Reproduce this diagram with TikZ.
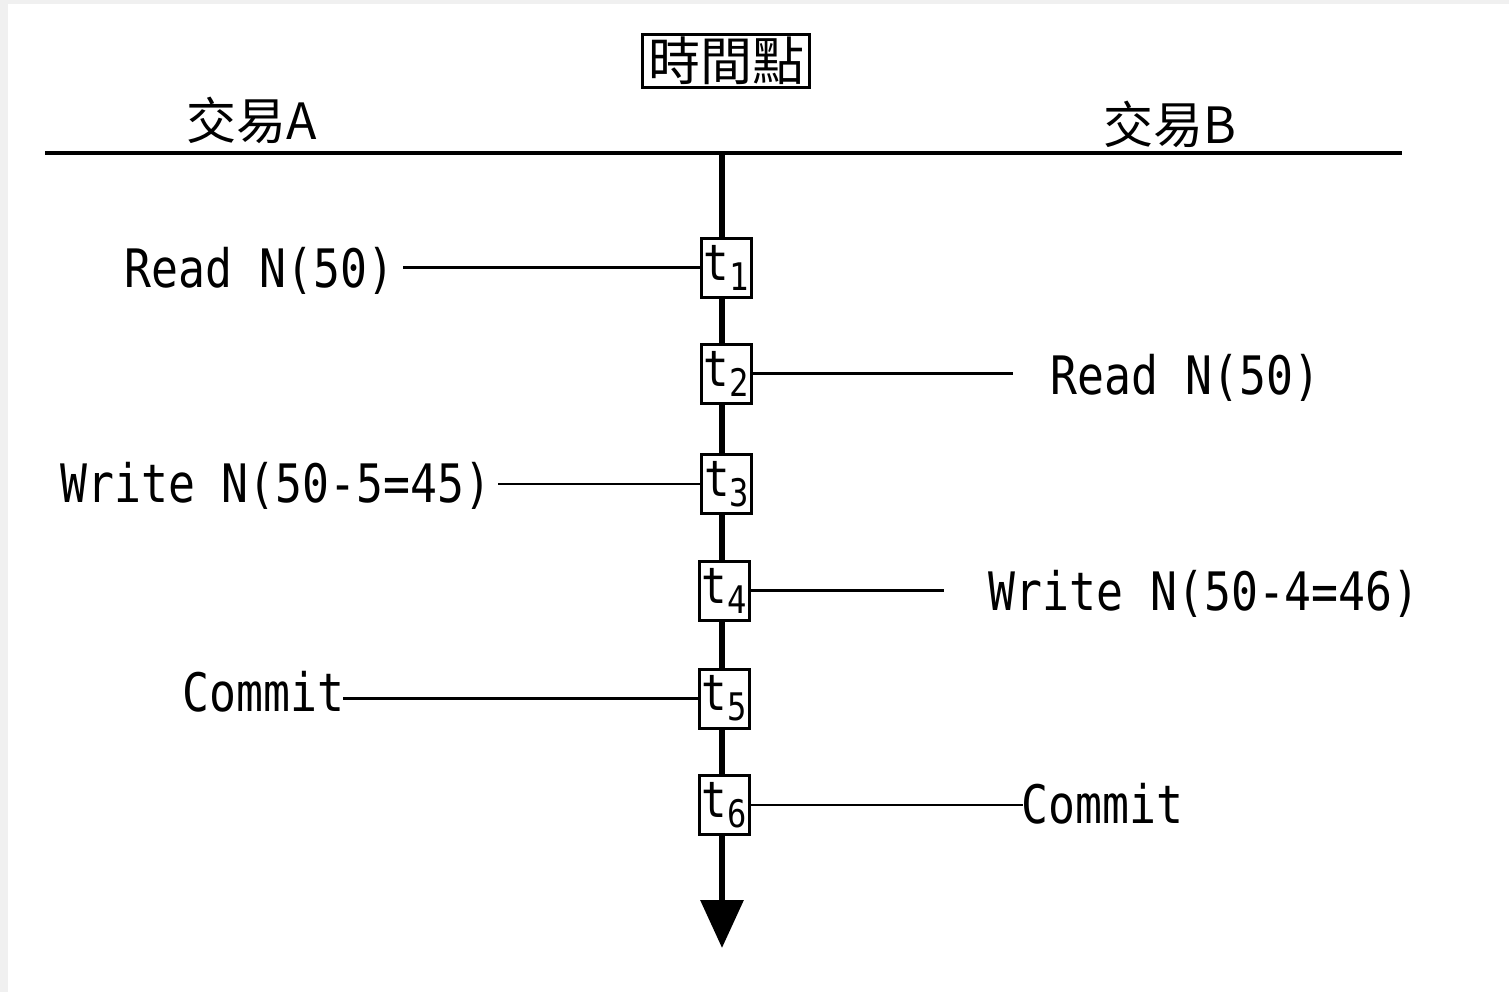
\documentclass[tikz,border=0pt]{standalone}
\usepackage{fontspec}
\usetikzlibrary{arrows.meta}
\newfontfamily\monof[FakeStretch=0.845]{DejaVu Sans Mono}
\newfontfamily\cjkf{Noto Sans CJK TC}
\newcommand\tlab[1]{{\monof\fontsize{25}{27}\selectfont t}{\monof\fontsize{19}{21}\selectfont\raisebox{-5pt}{#1}}}
\tikzset{
  tbox/.style={draw, line width=1.5pt, fill=white, minimum width=25pt, minimum height=29.5pt, inner sep=0pt},
  conn/.style={line width=1.1pt},
  lbl/.style={inner sep=0pt, font=\monof\fontsize{26.5}{30}\selectfont},
  hdr/.style={inner sep=0pt, font=\cjkf\fontsize{25}{30}\selectfont}
}
\begin{document}
\begin{tikzpicture}[x=0.5pt,y=-0.5pt]
\path[use as bounding box] (0,0) rectangle (1509,992);
\fill[black!6] (0,0) rectangle (1509,992);
\fill[white] (8,4) rectangle (1509,992);

% header
\node[draw, line width=1.5pt, inner sep=0pt, minimum width=83.5pt, minimum height=26.5pt, font=\cjkf\fontsize{26}{30}\selectfont] (tp) at (726,61) {時間點};
\node[hdr] (ta) at (252,120) {交易A};
\node[hdr] (tb) at (1170,124) {交易B};
\coordinate (hl) at (45,153);
\coordinate (hr) at (1402,153);
\draw[line width=1.7pt] (hl) -- (hr);

% time axis
\coordinate (top) at (722,153);
\coordinate (bot) at (722,948);
\draw[line width=3.2pt, -{Triangle[length=24pt, width=21pt]}] (top) -- (bot);

% time boxes
\node[tbox] (t1) at (726,267.5) {\tlab{1}};
\node[tbox] (t2) at (726,373.5) {\tlab{2}};
\node[tbox] (t3) at (726.5,484) {\tlab{3}};
\node[tbox] (t4) at (724,590.5) {\tlab{4}};
\node[tbox] (t5) at (724,698.5) {\tlab{5}};
\node[tbox] (t6) at (724,805) {\tlab{6}};

% free ends of connectors
\coordinate (e1) at (403,268);
\coordinate (e2) at (1013,375);
\coordinate (e3) at (498,485);
\coordinate (e4) at (944,591);
\coordinate (e5) at (343,698);
\coordinate (e6) at (1023,805);

\draw[conn] (t1.west) -- (e1 |- t1.west);
\draw[conn] (t2.east) -- (e2 |- t2.east);
\draw[conn] (t3.west) -- (e3 |- t3.west);
\draw[conn] (t4.east) -- (e4 |- t4.east);
\draw[conn] (t5.west) -- (e5 |- t5.west);
\draw[conn] (t6.east) -- (e6 |- t6.east);

% labels
\node[lbl, anchor=base east] (l1) at (395,287) {Read N(50)};
\node[lbl, anchor=base west] (l2) at (1050,394) {Read N(50)};
\node[lbl, anchor=base east] (l3) at (492,502) {Write N(50-5=45)};
\node[lbl, anchor=base west] (l4) at (988,610) {Write N(50-4=46)};
\node[lbl, anchor=base east] (l5) at (345,711) {Commit};
\node[lbl, anchor=base west] (l6) at (1021,823) {Commit};
\end{tikzpicture}
\end{document}
